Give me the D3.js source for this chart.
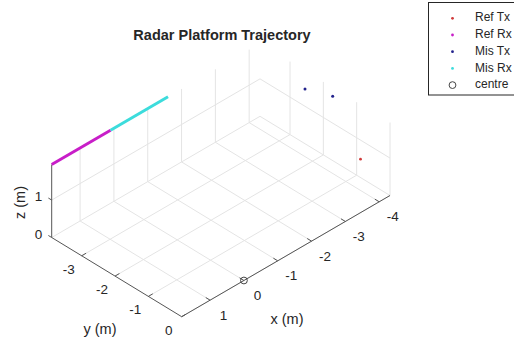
<!DOCTYPE html>
<html>
<head>
<meta charset="utf-8">
<script src="https://cdn.jsdelivr.net/npm/d3@7"></script>
<style>
  body { margin: 0; background: #fff; }
  text { font-family: "Liberation Sans", Arial, sans-serif; fill: #262626; }
</style>
</head>
<body>
<svg id="mainsvg" width="514" height="338"></svg>
<script>
const svg = d3.select('#mainsvg');

// axis limits and ticks
const xLim = [-4.32, 1.84];
const yLim = [-3.9, 0];
const zLim = [0, 1.95];
const xTicks = [-4, -3, -2, -1, 0, 1];
const yTicks = [-3, -2, -1, 0];
const zTicks = [0, 1];

// series, [x, y, z]
const refTx = [[-4.32, -0.885, 0.49]];
const refRx = [[1.84, -3.9, 1.95], [0.10, -3.9, 1.95]];
const misTx = [[-4.32, -2.55, 1.46], [-4.32, -1.72, 1.72]];
const misRx = [[0.10, -3.9, 1.95], [-1.60, -3.9, 1.95]];
const centre = [[0, 0, 0]];

const legendNames = ['Ref Tx', 'Ref Rx', 'Mis Tx', 'Mis Rx', 'centre'];
const legendColors = ['#d03a3a', '#c81ec8', '#22228c', '#3cdcdc', '#444'];

// oblique 3d view: x runs along the front edge, y and z are screen offsets
const sx = d3.scaleLinear().domain(xLim).range([[390, 195.5], [181.7, 316.7]]);
const sy = d3.scaleLinear().domain(yLim).range([[-130, -79.2], [0, 0]]);
const sz = d3.scaleLinear().domain(zLim).range([0, -73]);
const proj = (x, y, z) => {
  const a = sx(x), b = sy(y);
  return [a[0] + b[0], a[1] + b[1] + sz(z)];
};
const line = d3.line();

// grid on the floor and two back walls
const [x0, x1] = xLim, [y0, y1] = yLim, [z0, z1] = zLim;
const grid = [];
xTicks.forEach(x => {
  grid.push([proj(x, y0, 0), proj(x, y1, 0)]);
  grid.push([proj(x, y0, 0), proj(x, y0, z1)]);
});
yTicks.forEach(y => {
  grid.push([proj(x0, y, 0), proj(x1, y, 0)]);
  grid.push([proj(x0, y, 0), proj(x0, y, z1)]);
});
zTicks.forEach(z => {
  grid.push([proj(x0, y0, z), proj(x1, y0, z)]);
  grid.push([proj(x0, y0, z), proj(x0, y1, z)]);
});
svg.append('g').selectAll('path').data(grid).join('path')
  .attr('d', line).attr('stroke', '#e4e4e4').attr('fill', 'none');

// axes
const axes = [
  [proj(x0, 0, 0), proj(x1, 0, 0)],
  [proj(x1, y0, 0), proj(x1, y1, 0)],
  [proj(x1, y0, 0), proj(x1, y0, z1)]
];
xTicks.forEach(x => axes.push([proj(x, 0, 0), proj(x, -0.13, 0)]));
yTicks.forEach(y => axes.push([proj(x1, y, 0), proj(x1 - 0.13, y, 0)]));
zTicks.forEach(z => axes.push([proj(x1, y0, z), proj(x1, y0 - 0.1, z)]));
svg.append('g').selectAll('path').data(axes).join('path')
  .attr('d', line).attr('stroke', '#555').attr('fill', 'none');

// trajectories
svg.append('path').attr('d', line(refRx.map(p => proj(...p))))
  .attr('stroke', legendColors[1]).attr('stroke-width', 3).attr('fill', 'none');
svg.append('path').attr('d', line(misRx.map(p => proj(...p))))
  .attr('stroke', legendColors[3]).attr('stroke-width', 3).attr('fill', 'none');

svg.append('g').selectAll('circle').data(refTx).join('circle')
  .attr('cx', d => proj(...d)[0]).attr('cy', d => proj(...d)[1])
  .attr('r', 1.4).attr('fill', legendColors[0]);
svg.append('g').selectAll('circle').data(misTx).join('circle')
  .attr('cx', d => proj(...d)[0]).attr('cy', d => proj(...d)[1])
  .attr('r', 1.5).attr('fill', legendColors[2]);
svg.append('g').selectAll('circle').data(centre).join('circle')
  .attr('cx', d => proj(...d)[0]).attr('cy', d => proj(...d)[1])
  .attr('r', 3.4).attr('fill', 'none').attr('stroke', legendColors[4]);

// tick labels
const tickFont = 13.5;
svg.append('g').selectAll('text').data(xTicks).join('text')
  .attr('x', d => proj(d, 0, 0)[0] + 13.5).attr('y', d => proj(d, 0, 0)[1] + 16)
  .attr('text-anchor', 'middle').attr('dominant-baseline', 'middle')
  .attr('font-size', tickFont).text(d => d);
svg.append('g').selectAll('text').data(yTicks).join('text')
  .attr('x', d => proj(x1, d, 0)[0] - 13).attr('y', d => proj(x1, d, 0)[1] + 14.5)
  .attr('text-anchor', 'middle').attr('dominant-baseline', 'middle')
  .attr('font-size', tickFont).text(d => d);
svg.append('g').selectAll('text').data(zTicks).join('text')
  .attr('x', d => proj(x1, y0, d)[0] - 9.5).attr('y', d => proj(x1, y0, d)[1] - 2.5)
  .attr('text-anchor', 'end').attr('dominant-baseline', 'middle')
  .attr('font-size', tickFont).text(d => d);

// axis labels
svg.append('text').attr('x', 287).attr('y', 320).attr('text-anchor', 'middle')
  .attr('dominant-baseline', 'middle').attr('font-size', 14.5).text('x (m)');
svg.append('text').attr('x', 100).attr('y', 330).attr('text-anchor', 'middle')
  .attr('dominant-baseline', 'middle').attr('font-size', 14.5).text('y (m)');
svg.append('text').attr('transform', 'translate(21.5,202.5) rotate(-90)')
  .attr('text-anchor', 'middle').attr('dominant-baseline', 'middle')
  .attr('font-size', 14.5).text('z (m)');

svg.append('text').attr('x', 222).attr('y', 39.5).attr('text-anchor', 'middle')
  .attr('font-size', 14.5).attr('font-weight', 'bold').attr('fill', '#000')
  .text('Radar Platform Trajectory');

// legend
const lg = svg.append('g').attr('transform', 'translate(428.5,2.5)');
lg.append('rect').attr('width', 100).attr('height', 92.5)
  .attr('fill', '#fff').attr('stroke', '#262626');
const rows = lg.selectAll('g.row').data(legendNames).join('g').attr('class', 'row')
  .attr('transform', (d, i) => `translate(0, ${15.8 + i * 16.7})`);
rows.filter((d, i) => i < 4).append('circle')
  .attr('cx', 24).attr('r', 1.4).attr('fill', (d, i) => legendColors[i]);
rows.filter((d, i) => i === 4).append('circle')
  .attr('cx', 24).attr('r', 3.4).attr('fill', 'none').attr('stroke', legendColors[4]);
rows.append('text').attr('x', 46.5).attr('dominant-baseline', 'middle')
  .attr('font-size', 12).text(d => d);
</script>
</body>
</html>
